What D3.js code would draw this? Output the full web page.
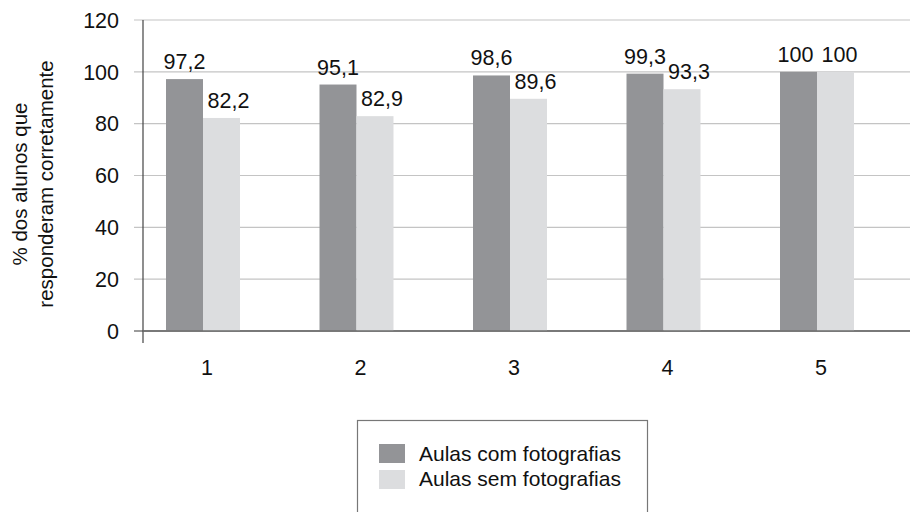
<!DOCTYPE html>
<html>
<head>
<meta charset="utf-8">
<script src="https://cdn.jsdelivr.net/npm/d3@7"></script>
<style>
  html, body { margin: 0; padding: 0; background: #fff; }
  svg { display: block; font-family: "Liberation Sans", Arial, sans-serif; }
</style>
</head>
<body>
<svg id="chart" width="910" height="512"></svg>
<script>
const categories = ["1", "2", "3", "4", "5"];
const seriesNames = ["Aulas com fotografias", "Aulas sem fotografias"];
const comFotos = [97.2, 95.1, 98.6, 99.3, 100];
const semFotos = [82.2, 82.9, 89.6, 93.3, 100];
const yTicks = [0, 20, 40, 60, 80, 100, 120];
const labelsCom = ["97,2", "95,1", "98,6", "99,3", "100"];
const labelsSem = ["82,2", "82,9", "89,6", "93,3", "100"];
const yTitleLines = ["% dos alunos que", "responderam corretamente"];

const colors = ["#939497", "#dcdddf"];
const svg = d3.select("#chart");

const axisX = 143, plotTop = 20, plotBottom = 331, gridRight = 910;

const y = d3.scaleLinear().domain([0, 120]).range([plotBottom, plotTop]);
const xc = d3.scalePoint().domain(categories).range([203, 817]);
const groupW = xc.step() * 0.482;
const xs = d3.scaleBand().domain(seriesNames).range([-groupW / 2, groupW / 2]).padding(0);

// gridlines
svg.append("g").selectAll("line").data(yTicks).join("line")
  .attr("x1", axisX - 9).attr("x2", gridRight)
  .attr("y1", d => y(d)).attr("y2", d => y(d))
  .attr("stroke", d => d === 0 ? "#7a7a7a" : "#c4c4c4")
  .attr("stroke-width", d => d === 0 ? 1.5 : 1.2);

// y tick labels
svg.append("g").selectAll("text").data(yTicks).join("text")
  .attr("x", axisX - 24).attr("y", d => y(d)).attr("dy", "0.36em")
  .attr("text-anchor", "end").attr("font-size", 21.5).attr("fill", "#111")
  .text(d => d);

// y axis line
svg.append("line")
  .attr("x1", axisX).attr("x2", axisX)
  .attr("y1", plotTop).attr("y2", plotBottom + 12)
  .attr("stroke", "#444").attr("stroke-width", 1.2);

// bars
const seriesData = [comFotos, semFotos];
const seriesLabels = [labelsCom, labelsSem];
function labelShift(si, d) {
  if (si === 0) return d >= 100 ? -3 : 0;
  return d >= 100 ? 4 : 7;
}
seriesData.forEach((vals, si) => {
  const name = seriesNames[si];
  const g = svg.append("g");
  g.selectAll("rect").data(vals).join("rect")
    .attr("x", (d, i) => xc(categories[i]) + xs(name))
    .attr("width", xs.bandwidth())
    .attr("y", d => y(d))
    .attr("height", d => y(0) - y(d))
    .attr("fill", colors[si]);
  g.selectAll("text").data(vals).join("text")
    .attr("x", (d, i) => xc(categories[i]) + xs(name) + xs.bandwidth() / 2 + labelShift(si, d))
    .attr("y", d => y(d) - 10)
    .attr("text-anchor", "middle").attr("font-size", 21.5).attr("fill", "#111")
    .text((d, i) => seriesLabels[si][i]);
});

// zero line over bars
svg.append("line")
  .attr("x1", axisX).attr("x2", gridRight)
  .attr("y1", y(0)).attr("y2", y(0))
  .attr("stroke", "#6e6e6e").attr("stroke-width", 1.5);

// category labels
svg.append("g").selectAll("text").data(categories).join("text")
  .attr("x", d => xc(d) + 4).attr("y", 375)
  .attr("text-anchor", "middle").attr("font-size", 21.5).attr("fill", "#111")
  .text(d => d);

// y title
const yt = svg.append("text")
  .attr("transform", "translate(0,184) rotate(-90)")
  .attr("text-anchor", "middle").attr("font-size", 20.5).attr("fill", "#111");
yTitleLines.forEach((t, i) => {
  yt.append("tspan").attr("x", 0).attr("y", 27 + i * 26).text(t);
});

// legend
const lg = svg.append("g");
lg.append("rect")
  .attr("x", 357.5).attr("y", 420.5).attr("width", 290).attr("height", 100)
  .attr("fill", "#fff").attr("stroke", "#777").attr("stroke-width", 1.2);
seriesNames.forEach((n, i) => {
  lg.append("rect")
    .attr("x", 379).attr("y", 444 + i * 26).attr("width", 26).attr("height", 19)
    .attr("fill", colors[i]);
  lg.append("text")
    .attr("x", 419).attr("y", 461 + i * 25)
    .attr("font-size", 21).attr("fill", "#111")
    .text(n);
});
</script>
</body>
</html>
